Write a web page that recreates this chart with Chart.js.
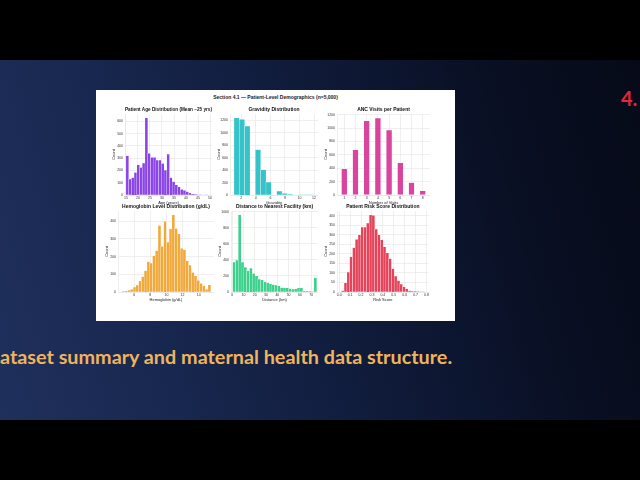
<!DOCTYPE html>
<html>
<head>
<meta charset="utf-8">
<script src="https://cdn.jsdelivr.net/npm/chart.js@4.4.0/dist/chart.umd.min.js"></script>
<style>
  html, body { margin:0; padding:0; background:#000; }
  #stage { position:relative; width:640px; height:480px; overflow:hidden; background:#000; }
  #band { position:absolute; left:0; top:60px; width:640px; height:360px;
    background: linear-gradient(75deg, #1f305c 0%, #18274f 25%, #0f1a38 55%, #090f22 80%, #060a18 100%); }
  #panel { position:absolute; left:96px; top:90px; width:359px; height:231px; background:#fff; }
  #suptitle { position:absolute; left:96px; width:359px; top:94px; text-align:center;
    font: bold 5px "Liberation Sans", Arial, sans-serif; color:#222; white-space:nowrap; }
  canvas { position:absolute; }
  #caption { position:absolute; left:0; top:347px; white-space:nowrap; transform-origin:0 0;
    font: bold 19px Lato, sans-serif; line-height:20px; color:#efb45e; }
  #num { position:absolute; left:621px; top:88px; white-space:nowrap;
    font: bold 20px Lato, sans-serif; line-height:20px; color:#e2263d; }
</style>
</head>
<body>
<div id="stage">
  <div id="band"></div>
  <div id="num">4.</div>
  <div id="panel"></div>
  <div id="suptitle">Section 4.1 — Patient-Level Demographics (n=5,000)</div>
  <canvas id="cAge"></canvas>
  <canvas id="cGrav"></canvas>
  <canvas id="cAnc"></canvas>
  <canvas id="cHb"></canvas>
  <canvas id="cDist"></canvas>
  <canvas id="cRisk"></canvas>
  <div id="caption">ataset summary and maternal health data structure.</div>
</div>
<script>
// --- data ---
const ageBins = [15.57,16.70,17.83,18.97,20.10,21.23,22.37,23.50,24.63,25.77,26.90,28.03,29.17,30.30,31.43,
                 32.57,33.70,34.83,35.97,37.10,38.23,39.37,40.50,41.63,42.77,43.90,45.03,46.17,47.30,48.43];
const ageCounts = [320,128,142,183,246,224,260,628,339,306,306,284,284,257,202,
                   333,142,109,82,66,46,38,27,16,8,4,2,1,0,1];
const ageXTicks = [15,20,25,30,35,40,45,50];
const ageYTicks = [0,100,200,300,400,500,600];

const gravBins = [1.37,2.10,2.83,3.57,4.30,5.03,5.77,6.50,7.23,7.97,8.70,9.43,10.17,10.90,11.63];
const gravCounts = [1240,1215,1105,0,730,405,205,0,60,27,10,0,3,1,1];
const gravXTicks = [2,4,6,8,10,12];
const gravYTicks = [0,200,400,600,800,1000,1200];

const ancVisits = [1,2,3,4,5,6,7,8];
const ancCounts = [395,677,1111,1151,973,484,188,64];
const ancXTicks = [1,2,3,4,5,6,7,8];
const ancYTicks = [0,200,400,600,800,1000,1200];

const hbBins = [4.67,5.02,5.36,5.70,6.05,6.39,6.73,7.08,7.42,7.77,8.11,8.45,8.80,9.14,9.48,9.83,
                10.17,10.52,10.86,11.20,11.55,11.89,12.23,12.58,12.92,13.27,13.61,13.95,14.30,14.64,14.98,15.33];
const hbCounts = [4,6,10,15,27,38,63,87,120,171,163,205,233,376,258,399,
                  281,357,436,360,328,247,239,176,152,110,91,66,49,34,15,40];
const hbXTicks = [6,8,10,12,14];
const hbYTicks = [0,100,200,300,400];

const distBins = [1.74,4.22,6.70,9.18,11.66,14.14,16.62,19.10,21.58,24.06,26.54,29.02,31.50,33.98,36.46,
                  38.94,41.42,43.90,46.38,48.86,51.34,53.82,56.30,58.78,61.26,63.74,66.22,68.70,71.18,73.66];
const distCounts = [370,395,960,370,310,265,295,230,200,160,150,125,115,100,92,
                    85,75,55,52,50,42,35,38,50,52,12,8,6,5,175];
const distXTicks = [0,10,20,30,40,50,60,70];
const distYTicks = [0,200,400,600,800,1000];

const riskBins = [0.033,0.058,0.084,0.109,0.135,0.160,0.186,0.211,0.237,0.262,0.288,0.313,0.339,0.364,0.390,
                  0.415,0.441,0.466,0.492,0.517,0.543,0.568,0.594,0.619,0.645,0.670,0.696,0.721,0.747,0.772];
const riskCounts = [7,48,104,184,232,276,299,340,340,361,405,402,329,299,273,
                    237,205,175,122,83,60,41,27,16,7,4,3,2,1,1];
const riskXTicks = ['0.0','0.1','0.2','0.3','0.4','0.5','0.6','0.7','0.8'];
const riskYTicks = [0,50,100,150,200,250,300,350,400];

// --- layout helpers ---
const FONT = '"Liberation Sans", Arial, sans-serif';
const YW = 14, XH = 10.5, TH = 8;
const GRID = '#e4e4e4';

function hist(id, box, o) {
  // box = plot area in page pixels [left, top, right, bottom]
  const c = document.getElementById(id);
  const w = box[2] - box[0] + YW, h = box[3] - box[1] + TH + XH;
  c.width = Math.ceil(w); c.height = Math.ceil(h);
  c.style.width = c.width + 'px'; c.style.height = c.height + 'px';
  c.style.left = (box[0] - YW) + 'px'; c.style.top = (box[1] - TH) + 'px';

  const fixTicks = list => s => { s.ticks = list.map(v => ({ value: Number(v), label: String(v) })); };

  return new Chart(c, {
    type: 'bar',
    data: {
      datasets: [{
        data: o.xs.map((x, i) => ({ x: x, y: o.ys[i] })),
        backgroundColor: o.color,
        borderColor: 'rgba(255,255,255,0.85)',
        borderWidth: 0.4,
        barPercentage: o.barPct || 1,
        categoryPercentage: 1
      }]
    },
    options: {
      responsive: false,
      animation: false,
      devicePixelRatio: 1,
      layout: { padding: { bottom: c.height - h }, autoPadding: false },
      plugins: {
        legend: { display: false },
        tooltip: { enabled: false },
        title: {
          display: true, text: o.title, fullSize: false,
          color: '#111', padding: { top: 1, bottom: 1 },
          font: { family: FONT, size: 5, weight: 'bold', lineHeight: 1.2 }
        }
      },
      scales: {
        x: {
          type: 'linear', offset: false, min: o.xmin, max: o.xmax,
          grid: { color: GRID, lineWidth: 0.6, drawTicks: false, offset: false },
          border: { color: GRID, width: 0.6 },
          ticks: {
            autoSkip: false, maxRotation: 0, minRotation: 0,
            padding: 1, color: '#333', font: { family: FONT, size: 3.5, lineHeight: 1.1 },
            callback: function (v, i, ticks) { return ticks[i].label; }
          },
          afterBuildTicks: fixTicks(o.xticks),
          title: { display: true, text: o.xtitle, color: '#222', padding: 0,
                   font: { family: FONT, size: 4, lineHeight: 1.1 } },
          afterFit: s => { s.height = XH; }
        },
        y: {
          min: 0, max: o.ymax,
          grid: { color: GRID, lineWidth: 0.6, drawTicks: false },
          border: { color: GRID, width: 0.6 },
          ticks: { autoSkip: false, padding: 2, color: '#333', font: { family: FONT, size: 3.5 },
                   callback: function (v, i, ticks) { return ticks[i].label; } },
          afterBuildTicks: fixTicks(o.yticks),
          title: { display: true, text: 'Count', color: '#222', padding: 0.5,
                   font: { family: FONT, size: 4 } },
          afterFit: s => { s.width = YW; }
        }
      }
    }
  });
}

hist('cAge', [125, 114, 213, 195], {
  xs: ageBins, ys: ageCounts, color: '#8b44e8', xticks: ageXTicks, yticks: ageYTicks,
  title: 'Patient Age Distribution (Mean ~25 yrs)', xtitle: 'Age (years)',
  xmin: 14.6, xmax: 50.8, ymax: 660
});
hist('cGrav', [230, 114, 318, 195], {
  xs: gravBins, ys: gravCounts, color: '#35c2c9', xticks: gravXTicks, yticks: gravYTicks,
  title: 'Gravidity Distribution', xtitle: 'Gravidity',
  xmin: 0.45, xmax: 12.55, ymax: 1302
});
hist('cAnc', [337, 114, 430, 195], {
  xs: ancVisits, ys: ancCounts, color: '#d8449e', barPct: 0.55, xticks: ancXTicks, yticks: ancYTicks,
  title: 'ANC Visits per Patient', xtitle: 'Number of Visits',
  xmin: 0.35, xmax: 8.65, ymax: 1210
});
hist('cHb', [118, 211, 214, 292], {
  xs: hbBins, ys: hbCounts, color: '#f2a93b', xticks: hbXTicks, yticks: hbYTicks,
  title: 'Hemoglobin Level Distribution (g/dL)', xtitle: 'Hemoglobin (g/dL)',
  xmin: 4.0, xmax: 15.9, ymax: 458
});
hist('cDist', [231, 211, 318, 292], {
  xs: distBins, ys: distCounts, color: '#3ed18d', xticks: distXTicks, yticks: distYTicks,
  title: 'Distance to Nearest Facility (km)', xtitle: 'Distance (km)',
  xmin: -1, xmax: 76, ymax: 1008
});
hist('cRisk', [337, 211, 430, 292], {
  xs: riskBins, ys: riskCounts, color: '#e5435a', xticks: riskXTicks, yticks: riskYTicks,
  title: 'Patient Risk Score Distribution', xtitle: 'Risk Score',
  xmin: -0.02, xmax: 0.82, ymax: 425
});

// stretch the caption to the width it has on the slide
const cap = document.getElementById('caption');
cap.style.transform = 'scaleX(' + (452 / cap.offsetWidth) + ')';
</script>
</body>
</html>
